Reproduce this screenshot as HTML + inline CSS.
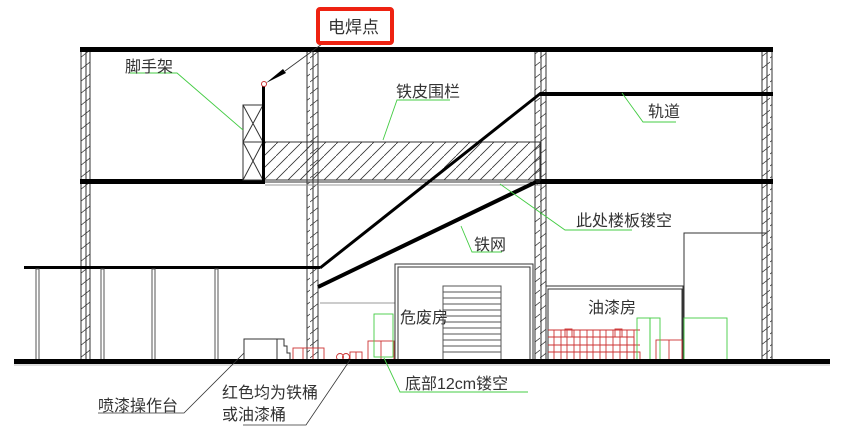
<!DOCTYPE html>
<html><head><meta charset="utf-8"><style>
body{margin:0;background:#fff;width:844px;height:442px;overflow:hidden}
svg text{font-family:"Liberation Sans","Noto Sans CJK SC",sans-serif;font-size:16px;fill:#333}
</style></head><body>
<svg width="844" height="442" viewBox="0 0 844 442" xmlns="http://www.w3.org/2000/svg">
<defs>
<pattern id="h" width="12" height="12" patternUnits="userSpaceOnUse"><path d="M0 12 L12 0" stroke="#333" stroke-width="0.8"/></pattern>
<pattern id="hc" width="10" height="12" patternUnits="userSpaceOnUse"><path d="M0 10 L10 2" stroke="#333" stroke-width="0.8"/></pattern>
</defs>
<g stroke="#333" stroke-width="1" fill="none">
<rect x="81" y="50" width="9" height="312" fill="url(#hc)"/><line x1="86" y1="50" x2="86" y2="362"/>
<rect x="307" y="50" width="11" height="312" fill="url(#hc)"/><line x1="313" y1="50" x2="313" y2="362"/>
<rect x="535" y="50" width="11" height="312" fill="url(#hc)"/><line x1="541" y1="50" x2="541" y2="362"/>
<rect x="762" y="50" width="10" height="312" fill="url(#hc)"/><line x1="767" y1="50" x2="767" y2="362"/>
</g>
<rect x="80" y="47" width="693" height="5" fill="#000"/>
<rect x="80" y="179" width="185" height="5" fill="#000"/>
<rect x="535" y="179" width="238" height="5" fill="#000"/>
<rect x="540" y="92" width="233" height="4" fill="#000"/>
<line x1="265" y1="182" x2="540" y2="182" stroke="#333"/>
<line x1="265" y1="185" x2="540" y2="185" stroke="#999"/>
<rect x="263" y="142" width="277" height="38" fill="url(#h)" stroke="#333"/>
<g stroke="#333" fill="#fff">
<rect x="243" y="105" width="20" height="37"/><rect x="243" y="142" width="20" height="38"/>
<path d="M243 105L263 142M263 105L243 142M243 142L263 180M263 142L243 180" fill="none"/>
</g>
<rect x="262" y="84" width="3" height="98" fill="#000"/>
<circle cx="264" cy="84" r="2.5" fill="#fff" stroke="#c33"/>
<path d="M266 83 L283 69 L286 73 Z" fill="#000"/>
<line x1="285" y1="71" x2="322" y2="44" stroke="#333" stroke-width="0.8"/>
<line x1="320" y1="268" x2="541" y2="93" stroke="#000" stroke-width="3"/>
<line x1="318" y1="287" x2="536" y2="182" stroke="#000" stroke-width="4"/>
<rect x="24" y="266" width="296" height="3" fill="#000"/>
<g stroke="#555" fill="none">
<rect x="36" y="269" width="3" height="92"/><rect x="101" y="269" width="3" height="92"/>
<rect x="152" y="269" width="3" height="92"/><rect x="215" y="269" width="3" height="92"/>
</g>
<line x1="320" y1="303" x2="395" y2="303" stroke="#999"/>
<rect x="395" y="264" width="138" height="97" fill="none" stroke="#333"/>
<rect x="398" y="267" width="132" height="94" fill="none" stroke="#333"/>
<g stroke="#555">
<rect x="443" y="286" width="58" height="74" fill="none"/>
<path d="M443 292H501M443 298H501M443 304H501M443 310H501M443 316H501M443 322H501M443 328H501M443 334H501M443 340H501M443 346H501M443 352H501"/>
</g>
<rect x="546" y="286" width="137" height="75" fill="none" stroke="#333"/>
<rect x="548" y="289" width="134" height="72" fill="none" stroke="#333"/>
<rect x="684" y="233" width="83" height="128" fill="none" stroke="#333"/>
<g stroke="#c33" fill="none" stroke-width="0.9">
<path d="M548 337H634M548 345H640M548 352H640M548 330H640"/>
<path d="M554 330V361M561 330V361M567 330V361M574 330V361M580 330V361M587 330V361M593 330V361M600 330V361M606 330V361M613 330V361M620 330V361M627 330V361M634 330V361"/>
<rect x="565" y="329" width="7" height="8"/><rect x="615" y="329" width="7" height="8"/>
<rect x="627" y="337" width="7" height="24"/><rect x="634" y="352" width="6" height="9"/>
<rect x="656" y="340" width="26" height="21"/><line x1="669" y1="340" x2="669" y2="361"/>
<rect x="293" y="348" width="31" height="13"/><line x1="303" y1="348" x2="303" y2="361"/><line x1="313" y1="348" x2="313" y2="361"/>
<circle cx="340" cy="357" r="3.5"/><circle cx="346" cy="357" r="3.5"/><rect x="350" y="352" width="12" height="9"/><line x1="356" y1="352" x2="356" y2="361"/>
<rect x="368" y="341" width="26" height="20"/><line x1="381" y1="341" x2="381" y2="361"/>
</g>
<g stroke="#4c4" fill="none" stroke-width="0.9">
<rect x="374" y="314" width="19" height="43"/>
<rect x="637" y="318" width="13" height="43"/><rect x="650" y="318" width="10" height="43"/>
<rect x="684" y="318" width="43" height="43"/>
</g>
<rect x="244" y="339" width="33" height="22" fill="none" stroke="#333"/>
<path d="M277 339H284V346H287V353H290V361" fill="none" stroke="#333"/>
<rect x="14" y="359" width="816" height="5" fill="#000"/>
<line x1="14" y1="365" x2="830" y2="365" stroke="#bbb"/>
<g stroke="#4c4" fill="none" stroke-width="0.9">
<path d="M130 73H177L243 130"/>
<path d="M383 140L397 100H450"/>
<path d="M622 93L643 122H676"/>
<path d="M500 184L565 230H632"/>
<path d="M461 226L472 252H502"/>
<path d="M384 358L400 392H528"/>
</g>
<g stroke="#333" fill="none" stroke-width="0.8">
<path d="M244 353L184 413H98"/>
<path d="M350 360L306 425H243"/>
</g>
<rect x="318" y="9" width="74" height="34" rx="2" fill="#fff" stroke="#e21" stroke-width="4"/>
<text x="328" y="33" style="font-size:17px">电焊点</text>
<text x="125" y="72">脚手架</text>
<text x="396" y="97">铁皮围栏</text>
<text x="648" y="117">轨道</text>
<text x="576" y="226">此处楼板镂空</text>
<text x="474" y="250">铁网</text>
<text x="400" y="323">危废房</text>
<text x="588" y="313">油漆房</text>
<text x="405" y="389">底部12cm镂空</text>
<text x="98" y="411">喷漆操作台</text>
<text x="222" y="398">红色均为铁桶</text>
<text x="222" y="420">或油漆桶</text>
</svg>
</body></html>
